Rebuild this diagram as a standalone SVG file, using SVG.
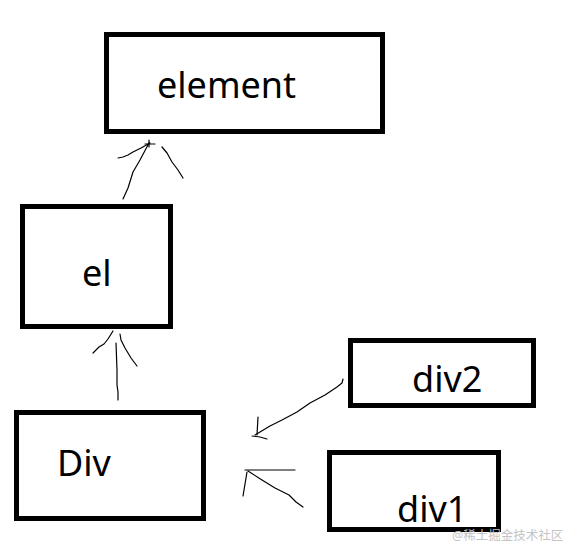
<svg xmlns="http://www.w3.org/2000/svg" width="576" height="558" viewBox="0 0 576 558">
<style>
.box{fill:#fff;stroke:#000;stroke-width:5}
.lbl{font-family:"Noto Sans","Open Sans",sans-serif;font-size:36px;fill:#000}
.pen{fill:none;stroke:#000;stroke-width:1.2;stroke-linecap:round;stroke-linejoin:round}
.wm{font-family:"Noto Sans","Noto Sans CJK SC",sans-serif;font-size:12.5px;fill:#c4c4c4}
</style>
<rect width="576" height="558" fill="#fff"/>
<g id="element"><rect class="box" x="106.5" y="34.5" width="276" height="97"/><text class="lbl" x="157" y="98">element</text></g>
<g id="el"><rect class="box" x="22.5" y="206.5" width="148" height="120"/><text class="lbl" x="82" y="286">el</text></g>
<g id="Div"><rect class="box" x="16.5" y="412.5" width="187" height="106"/><text class="lbl" x="57" y="476">Div</text></g>
<g id="div2"><rect class="box" x="350.5" y="340.5" width="183" height="65"/><text class="lbl" x="412" y="392">div2</text></g>
<g id="div1"><rect class="box" x="329.5" y="452.5" width="169" height="77"/><text class="lbl" x="397" y="522">div1</text></g>
<g id="connectors">
<path class="pen" d="M123 199 L128 188 L133 172 L140 160 L149 143"/>
<path class="pen" d="M118 158 L123 157 L128 155 L133 152 L141 148 L150 143"/>
<path class="pen" d="M145 144 L155 144 M149 140 L149 147"/>
<path class="pen" d="M162 147 L167 153 L172 162 L178 170 L183 178"/>
<path class="pen" d="M118 400 L118 392 L117 385 L117 370 L116 343"/>
<path class="pen" d="M93 353 L99 347 L104 344 L108 339 L113 331"/>
<path class="pen" d="M120 334 L121 340 L125 348 L131 358 L137 366"/>
<path class="pen" d="M343 379 L342 383 L337 387 L325 395 L310 403 L297 412 L282 420 L270 426 L255 435"/>
<path class="pen" d="M258 417 L257 435 M252 436 L260 437 L267 439"/>
<path class="pen" d="M245 470 L295 470"/>
<path class="pen" d="M247 472 L245 484 L243 496"/>
<path class="pen" d="M248 471 L262 480 L275 488 L289 495 L296 502 L303 507"/>
</g>
<text class="wm" x="452" y="540">@稀土掘金技术社区</text>
</svg>
